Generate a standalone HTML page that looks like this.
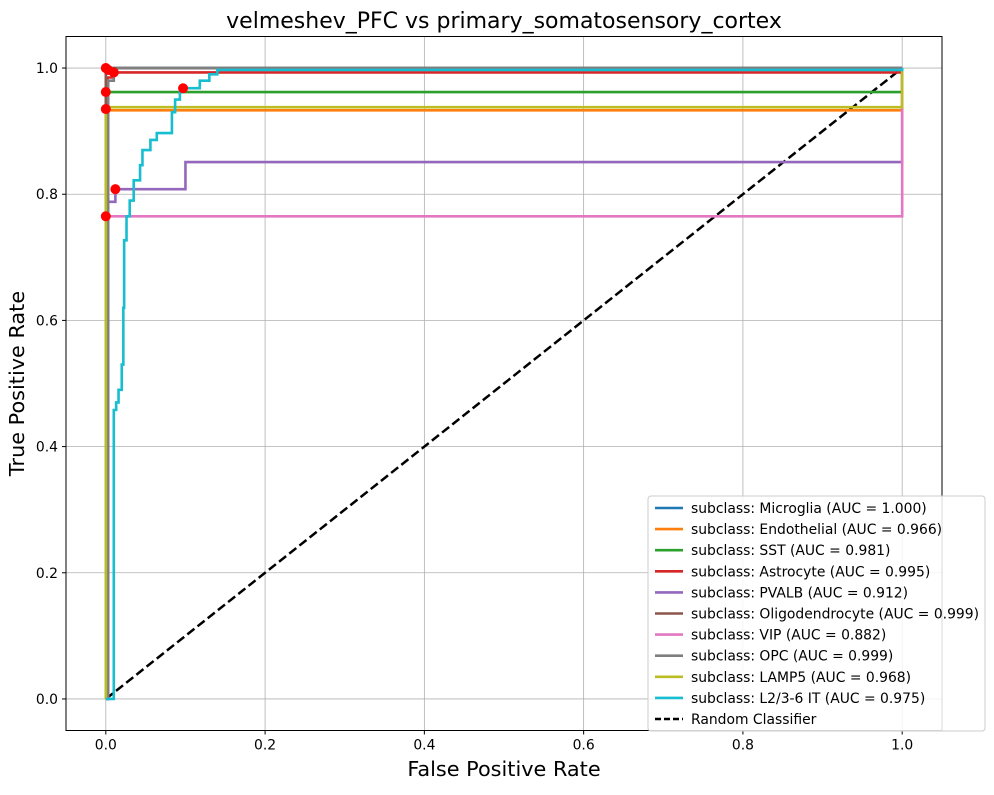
<!DOCTYPE html>
<html><head><meta charset="utf-8"><style>
body{margin:0;background:#fff;font-family:"Liberation Sans","DejaVu Sans",sans-serif}
svg text{font-family:"DejaVu Sans","Liberation Sans",sans-serif}
</style></head><body>
<svg id="chart" width="994" height="790" xmlns="http://www.w3.org/2000/svg"></svg>
<script>
const seriesNames=["subclass: Microglia (AUC = 1.000)","subclass: Endothelial (AUC = 0.966)","subclass: SST (AUC = 0.981)","subclass: Astrocyte (AUC = 0.995)","subclass: PVALB (AUC = 0.912)","subclass: Oligodendrocyte (AUC = 0.999)","subclass: VIP (AUC = 0.882)","subclass: OPC (AUC = 0.999)","subclass: LAMP5 (AUC = 0.968)","subclass: L2/3-6 IT (AUC = 0.975)"];
const colors=["#1f77b4","#ff7f0e","#2ca02c","#d62728","#9467bd","#8c564b","#e377c2","#7f7f7f","#bcbd22","#17becf"];
const fprMicroglia=[0,0,1],tprMicroglia=[0,1,1];
const fprEndo=[0,0,1,1],tprEndo=[0,0.933,0.933,1];
const fprSST=[0,0,1,1],tprSST=[0,0.962,0.962,1];
const fprAstro=[0,0.002,0.002,0.01,0.01,1,1],tprAstro=[0,0,0.985,0.985,0.993,0.993,1];
const fprPV=[0,0.003,0.003,0.012,0.012,0.1,0.1,1,1],tprPV=[0,0,0.788,0.788,0.808,0.808,0.851,0.851,1];
const fprOligo=[0,0,0.003,1],tprOligo=[0,0.99,1,1];
const fprVIP=[0,0,1,1],tprVIP=[0,0.765,0.765,1];
const fprOPC=[0,0.003,0.003,0.01,0.01,0.015,1],tprOPC=[0,0,0.98,0.98,0.992,1,1];
const fprLAMP=[0,0,1,1],tprLAMP=[0,0.938,0.938,1];
const fprIT=[0,0.01,0.013,0.016,0.02,0.022,0.023,0.026,0.03,0.035,0.043,0.046,0.056,0.064,0.083,0.087,0.093,0.097,0.118,0.13,0.14,1],
      tprIT=[0,0.458,0.47,0.49,0.53,0.62,0.727,0.765,0.79,0.822,0.846,0.87,0.886,0.897,0.93,0.95,0.962,0.968,0.98,0.99,0.997,1];
const stepped=[false,false,false,false,false,false,false,false,false,true];
const fprs=[fprMicroglia,fprEndo,fprSST,fprAstro,fprPV,fprOligo,fprVIP,fprOPC,fprLAMP,fprIT];
const tprs=[tprMicroglia,tprEndo,tprSST,tprAstro,tprPV,tprOligo,tprVIP,tprOPC,tprLAMP,tprIT];
const dotX=[0,0.003,0,0,0.01,0.097,0.012,0];
const dotY=[1,0.997,0.962,0.935,0.993,0.968,0.808,0.765];
const ticks=[0,0.2,0.4,0.6,0.8,1.0];
const tickLabels=["0.0","0.2","0.4","0.6","0.8","1.0"];

const L=66,R=942,T=36.5,B=730.5;
const X=v=>L+(v+0.05)/1.1*(R-L);
const Y=v=>B-(v+0.05)/1.1*(B-T);
const svg=document.getElementById('chart');
const NS="http://www.w3.org/2000/svg";
function mk(tag,attrs,parent){const e=document.createElementNS(NS,tag);for(const k in attrs)e.setAttribute(k,attrs[k]);(parent||svg).appendChild(e);return e;}
let e;
ticks.forEach((t,i)=>{
 e=mk('line',{x1:X(t),x2:X(t),y1:T,y2:B,stroke:'#b0b0b0','stroke-width':0.8});
 
 
 e=mk('line',{x1:L,x2:R,y1:Y(t),y2:Y(t),stroke:'#b0b0b0','stroke-width':0.8});
 
 
 mk('line',{x1:X(t),x2:X(t),y1:B,y2:B+4,stroke:'#000'});
 mk('line',{x1:L-4,x2:L,y1:Y(t),y2:Y(t),stroke:'#000'});
 e=mk('text',{x:X(t),y:B+19,'font-size':13.9,'text-anchor':'middle'});e.textContent=tickLabels[i];
 
 
 e=mk('text',{x:L-8,y:Y(t)+5,'font-size':13.9,'text-anchor':'end'});e.textContent=tickLabels[i];
 
 
});
e=mk('line',{x1:X(0),y1:Y(0),x2:X(1),y2:Y(1),stroke:'#000','stroke-width':2.5,'stroke-dasharray':'9,4'});


fprs.forEach((f,i)=>{
 let pts=[];
 f.forEach((v,j)=>{
  if(stepped[i]&&j>0){pts.push(X(v)+','+Y(tprs[i][j-1]));}
  pts.push(X(v)+','+Y(tprs[i][j]));
 });
 e=mk('polyline',{points:pts.join(' '),fill:'none',stroke:colors[i],'stroke-width':2.6});
 
 
});
dotX.forEach((v,i)=>{
 e=mk('circle',{cx:X(v),cy:Y(dotY[i]),r:5,fill:'red'});
 
 
});
e=mk('rect',{x:L,y:T,width:R-L,height:B-T,fill:'none',stroke:'#000','stroke-width':1});


e=mk('text',{x:(L+R)/2,y:28,'font-size':22,'text-anchor':'middle'});e.textContent='velmeshev_PFC vs primary_somatosensory_cortex';


e=mk('text',{x:(L+R)/2,y:776,'font-size':20.8,'text-anchor':'middle'});e.textContent='False Positive Rate';


e=mk('text',{x:24,y:(T+B)/2,'font-size':20.8,'text-anchor':'middle',transform:`rotate(-90 24 ${(T+B)/2})`});e.textContent='True Positive Rate';


const lg=mk('g',{});


mk('rect',{x:648,y:496,width:337,height:235,rx:3,fill:'#fff','fill-opacity':0.85,stroke:'#ccc'},lg);
const entries=seriesNames.concat(['Random Classifier']);
entries.forEach((n,i)=>{
 const y=508+i*21.1;
 const l=mk('line',{x1:655,x2:683,y1:y,y2:y,stroke:i<10?colors[i]:'#000','stroke-width':2.6},lg);
 if(i==10)l.setAttribute('stroke-dasharray','6,3');
 e=mk('text',{x:691,y:y+5,'font-size':13.9},lg);e.textContent=n;
 
 
});
</script>
</body></html>
